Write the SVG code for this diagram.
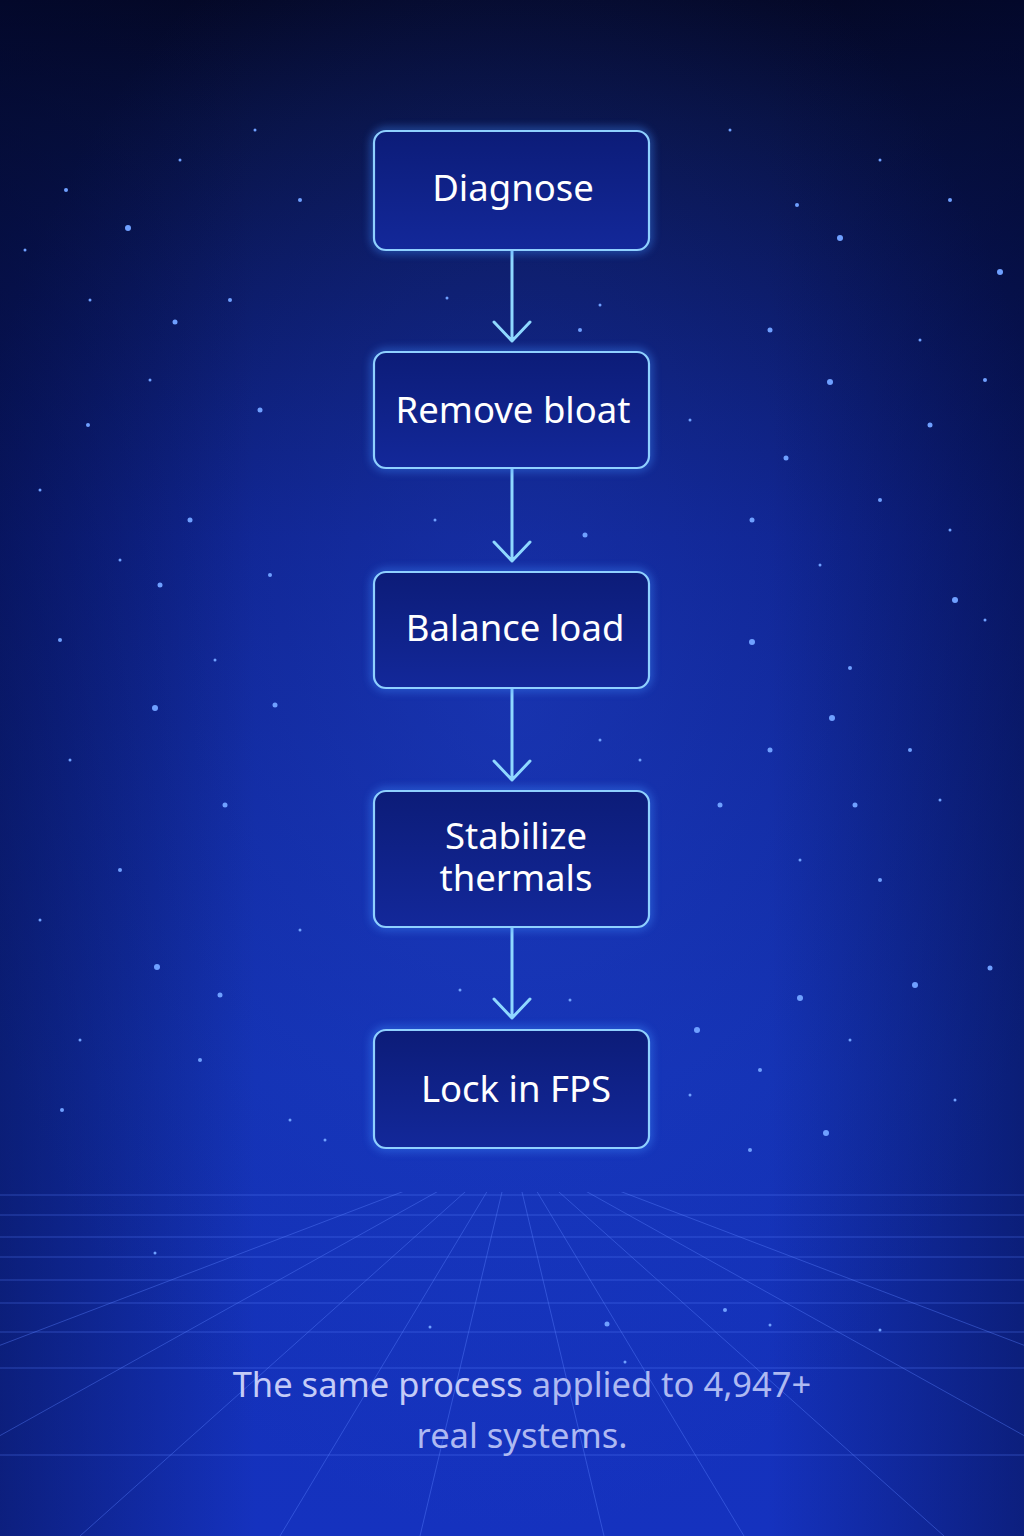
<svg xmlns="http://www.w3.org/2000/svg" width="1024" height="1536" viewBox="0 0 1024 1536">
<defs>
<linearGradient id="bg" x1="0" y1="0" x2="0" y2="1">
<stop offset="0" stop-color="#040826"/>
<stop offset="0.08" stop-color="#07103e"/>
<stop offset="0.35" stop-color="#0c1f86"/>
<stop offset="0.7" stop-color="#1230b0"/>
<stop offset="1" stop-color="#1532bf"/>
</linearGradient>
<radialGradient id="glow" cx="0.5" cy="0.45" r="0.55">
<stop offset="0" stop-color="#2a4ee0" stop-opacity="0.35"/>
<stop offset="1" stop-color="#2a4ee0" stop-opacity="0"/>
</radialGradient>
<linearGradient id="vign" x1="0" y1="0" x2="1" y2="0">
<stop offset="0" stop-color="#020830" stop-opacity="0.45"/>
<stop offset="0.25" stop-color="#020830" stop-opacity="0"/>
<stop offset="0.75" stop-color="#020830" stop-opacity="0"/>
<stop offset="1" stop-color="#020830" stop-opacity="0.45"/>
</linearGradient>
<linearGradient id="boxfill" x1="0" y1="0" x2="0" y2="1">
<stop offset="0" stop-color="#0c1c78"/>
<stop offset="1" stop-color="#13289a"/>
</linearGradient>
<linearGradient id="tail" x1="0" y1="0" x2="0" y2="1">
<stop offset="0" stop-color="#8fdcff" stop-opacity="1"/>
<stop offset="1" stop-color="#5aa0ff" stop-opacity="0.25"/>
</linearGradient>
<clipPath id="floor"><rect x="0" y="1192" width="1024" height="344"/></clipPath>
<filter id="blur" x="-20%" y="-20%" width="140%" height="140%">
<feGaussianBlur stdDeviation="4"/>
</filter>
<style>
.box{fill:url(#boxfill);stroke:#8fd0ff;stroke-width:2.2}
.halo{fill:none;stroke:#3f8cff;stroke-width:6;opacity:0.55}
.lbl{font-family:"Noto Sans","Open Sans",sans-serif;font-size:36.5px;fill:#ffffff;text-anchor:middle}
.conn{stroke:#8fd8ff;stroke-width:3;fill:none;stroke-linecap:round;stroke-linejoin:round}
.connglow{stroke:#3f8cff;stroke-width:8;fill:none;opacity:0.45}
.grid line{stroke:#5a80ff;stroke-width:1;opacity:0.4}
.stars circle{fill:#6fa0ff}
.foot{font-family:"Noto Sans","Open Sans",sans-serif;font-size:34.5px;fill:#aeb9f2;text-anchor:middle}
</style>
</defs>
<rect width="1024" height="1536" fill="url(#bg)"/>
<rect width="1024" height="1536" fill="url(#glow)"/>
<rect width="1024" height="1536" fill="url(#vign)"/>

<g class="grid" clip-path="url(#floor)">
<line x1="0" y1="1195" x2="1024" y2="1195"/>
<line x1="0" y1="1215" x2="1024" y2="1215"/>
<line x1="0" y1="1237" x2="1024" y2="1237"/>
<line x1="0" y1="1257" x2="1024" y2="1257"/>
<line x1="0" y1="1280" x2="1024" y2="1280"/>
<line x1="0" y1="1303" x2="1024" y2="1303"/>
<line x1="0" y1="1332" x2="1024" y2="1332"/>
<line x1="0" y1="1368" x2="1024" y2="1368"/>
<line x1="0" y1="1455" x2="1024" y2="1455"/>
<line x1="512" y1="1150" x2="-500" y2="1536"/>
<line x1="512" y1="1150" x2="-180" y2="1536"/>
<line x1="512" y1="1150" x2="80" y2="1536"/>
<line x1="512" y1="1150" x2="280" y2="1536"/>
<line x1="512" y1="1150" x2="420" y2="1536"/>
<line x1="512" y1="1150" x2="604" y2="1536"/>
<line x1="512" y1="1150" x2="744" y2="1536"/>
<line x1="512" y1="1150" x2="944" y2="1536"/>
<line x1="512" y1="1150" x2="1204" y2="1536"/>
<line x1="512" y1="1150" x2="1524" y2="1536"/>
</g>

<g class="stars">
<circle cx="128" cy="228" r="3"/><circle cx="66" cy="190" r="2"/><circle cx="180" cy="160" r="1.5"/>
<circle cx="255" cy="130" r="1.5"/><circle cx="300" cy="200" r="2"/><circle cx="230" cy="300" r="2"/>
<circle cx="90" cy="300" r="1.5"/><circle cx="175" cy="322" r="2.5"/><circle cx="150" cy="380" r="1.5"/>
<circle cx="260" cy="410" r="2.5"/><circle cx="88" cy="425" r="2"/><circle cx="40" cy="490" r="1.5"/>
<circle cx="190" cy="520" r="2.5"/><circle cx="120" cy="560" r="1.5"/><circle cx="270" cy="575" r="2"/>
<circle cx="60" cy="640" r="2"/><circle cx="160" cy="585" r="2.5"/><circle cx="215" cy="660" r="1.5"/>
<circle cx="155" cy="708" r="3"/><circle cx="275" cy="705" r="2.5"/><circle cx="70" cy="760" r="1.5"/>
<circle cx="225" cy="805" r="2.5"/><circle cx="120" cy="870" r="2"/><circle cx="40" cy="920" r="1.5"/>
<circle cx="157" cy="967" r="3"/><circle cx="220" cy="995" r="2.5"/><circle cx="300" cy="930" r="1.5"/>
<circle cx="80" cy="1040" r="1.5"/><circle cx="200" cy="1060" r="2"/><circle cx="290" cy="1120" r="1.5"/>
<circle cx="62" cy="1110" r="2"/><circle cx="25" cy="250" r="1.5"/>
<circle cx="840" cy="238" r="3"/><circle cx="1000" cy="272" r="3"/><circle cx="950" cy="200" r="2"/>
<circle cx="880" cy="160" r="1.5"/><circle cx="797" cy="205" r="2"/><circle cx="730" cy="130" r="1.5"/>
<circle cx="770" cy="330" r="2.5"/><circle cx="830" cy="382" r="3"/><circle cx="920" cy="340" r="1.5"/>
<circle cx="985" cy="380" r="2"/><circle cx="930" cy="425" r="2.5"/><circle cx="786" cy="458" r="2.5"/>
<circle cx="690" cy="420" r="1.5"/><circle cx="880" cy="500" r="2"/><circle cx="950" cy="530" r="1.5"/>
<circle cx="752" cy="520" r="2.5"/><circle cx="820" cy="565" r="1.5"/><circle cx="955" cy="600" r="3"/>
<circle cx="752" cy="642" r="3"/><circle cx="850" cy="668" r="2"/><circle cx="985" cy="620" r="1.5"/>
<circle cx="832" cy="718" r="3"/><circle cx="910" cy="750" r="2"/><circle cx="770" cy="750" r="2.5"/>
<circle cx="720" cy="805" r="2.5"/><circle cx="855" cy="805" r="2.5"/><circle cx="940" cy="800" r="1.5"/>
<circle cx="800" cy="860" r="1.5"/><circle cx="880" cy="880" r="2"/><circle cx="990" cy="968" r="2.5"/>
<circle cx="915" cy="985" r="3"/><circle cx="800" cy="998" r="3"/><circle cx="697" cy="1030" r="3"/>
<circle cx="760" cy="1070" r="2"/><circle cx="850" cy="1040" r="1.5"/><circle cx="826" cy="1133" r="3"/>
<circle cx="955" cy="1100" r="1.5"/><circle cx="750" cy="1150" r="2"/><circle cx="690" cy="1095" r="1.5"/>
<circle cx="725" cy="1310" r="2"/><circle cx="607" cy="1324" r="2.5"/><circle cx="625" cy="1362" r="1.5"/>
<circle cx="770" cy="1325" r="1.5"/><circle cx="880" cy="1330" r="1.5"/><circle cx="155" cy="1253" r="1.5"/>
<circle cx="430" cy="1327" r="1.5"/><circle cx="325" cy="1140" r="1.5"/>
<circle cx="447" cy="298" r="1.5"/><circle cx="580" cy="330" r="2"/><circle cx="600" cy="305" r="1.5"/>
<circle cx="585" cy="535" r="2.5"/><circle cx="435" cy="520" r="1.5"/><circle cx="640" cy="760" r="1.5"/>
<circle cx="600" cy="740" r="1.5"/><circle cx="460" cy="990" r="1.5"/><circle cx="570" cy="1000" r="1.5"/>
</g>

<g id="connectors">
<line class="connglow" x1="512" y1="250" x2="512" y2="340" filter="url(#blur)"/>
<line class="connglow" x1="512" y1="468" x2="512" y2="560" filter="url(#blur)"/>
<line class="connglow" x1="512" y1="688" x2="512" y2="780" filter="url(#blur)"/>
<line class="connglow" x1="512" y1="927" x2="512" y2="1018" filter="url(#blur)"/>
<line class="connglow" x1="512" y1="1148" x2="512" y2="1400" filter="url(#blur)"/>
<path class="conn" d="M512 250 V341 M494 322 L512 341 L530 322"/>
<path class="conn" d="M512 468 V561 M494 542 L512 561 L530 542"/>
<path class="conn" d="M512 688 V780 M494 761 L512 780 L530 761"/>
<path class="conn" d="M512 927 V1018 M494 999 L512 1018 L530 999"/>
<line x1="512" y1="1148" x2="512" y2="1536" stroke="url(#tail)" stroke-width="2.5"/>
</g>

<g id="node-diagnose">
<rect class="halo" x="374" y="131" width="275" height="119" rx="12" filter="url(#blur)"/>
<rect class="box" x="374" y="131" width="275" height="119" rx="12"/>
<text class="lbl" x="513" y="201">Diagnose</text>
</g>
<g id="node-remove-bloat">
<rect class="halo" x="374" y="352" width="275" height="116" rx="12" filter="url(#blur)"/>
<rect class="box" x="374" y="352" width="275" height="116" rx="12"/>
<text class="lbl" x="513" y="423">Remove bloat</text>
</g>
<g id="node-balance-load">
<rect class="halo" x="374" y="572" width="275" height="116" rx="12" filter="url(#blur)"/>
<rect class="box" x="374" y="572" width="275" height="116" rx="12"/>
<text class="lbl" x="515" y="641">Balance load</text>
</g>
<g id="node-stabilize">
<rect class="halo" x="374" y="791" width="275" height="136" rx="12" filter="url(#blur)"/>
<rect class="box" x="374" y="791" width="275" height="136" rx="12"/>
<text class="lbl" x="516" y="849"><tspan x="516">Stabilize</tspan><tspan x="516" dy="42">thermals</tspan></text>
</g>
<g id="node-lock-fps">
<rect class="halo" x="374" y="1030" width="275" height="118" rx="12" filter="url(#blur)"/>
<rect class="box" x="374" y="1030" width="275" height="118" rx="12"/>
<text class="lbl" x="516" y="1102">Lock in FPS</text>
</g>

<text class="foot" x="522" y="1397"><tspan fill="#c4cbf7">The same process</tspan> applied to 4,947+</text>
<text class="foot" x="522" y="1448">real systems.</text>
</svg>
